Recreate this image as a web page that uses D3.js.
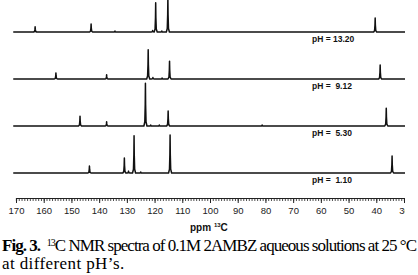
<!DOCTYPE html>
<html><head><meta charset="utf-8">
<script src="https://cdn.jsdelivr.net/npm/d3@7/dist/d3.min.js"></script>
<style>
html,body{margin:0;padding:0;background:#fff;}
svg{display:block;}
</style></head>
<body>
<script>
// ---- data (ppm, relative intensity 0-100) ----
const spectrumLabels = ["pH = 13.20", "pH =  9.12", "pH =  5.30", "pH =  1.10"];
const peaksPH1320 = [[163.1, 11], [142.9, 17], [134.3, 2], [120.7, 3], [119.6, 62], [117.4, 2], [115.2, 74], [40.4, 30]];
const peaksPH912  = [[155.6, 13], [137.3, 9], [122.3, 62], [120.6, 3], [117.3, 2], [114.6, 38], [38.6, 30]];
const peaksPH530  = [[146.9, 21], [137.3, 9], [123.3, 91], [121.4, 2], [118.3, 2], [115.1, 32], [81.2, 2], [36.4, 38]];
const peaksPH110  = [[143.5, 15], [130.9, 32], [129.4, 4], [127.4, 79], [125.0, 2], [114.4, 81], [34.3, 36]];
const spectra = [peaksPH1320, peaksPH912, peaksPH530, peaksPH110];
const ppmTicks = [170, 160, 150, 140, 130, 120, 110, 100, 90, 80, 70, 60, 50, 40, 30];
const axisTitle = "ppm";
const captionBold = "Fig. 3.";
const captionLine1 = "C NMR spectra of 0.1M 2AMBZ aqueous solutions at 25 °C";
const captionLine2 = "at different pH’s.";

const W = 418, H = 275;
const svg = d3.select("body").append("svg").attr("width", W).attr("height", H);

const x = d3.scaleLinear().domain([170, 30]).range([16, 404]);
const baseY = [32, 79, 126, 173];
const y = d3.scaleLinear().domain([0, 100]).range([0, -47]);

svg.append("defs").append("clipPath").attr("id", "clip")
  .append("rect").attr("x", 0).attr("y", 0).attr("width", 405).attr("height", H);

const g = svg.append("g").attr("clip-path", "url(#clip)");

const line = d3.line().x(d => x(d[0])).y(d => y(d[1]));

spectra.forEach((peaks, i) => {
  const pts = [[171, 0]];
  peaks.slice().sort((a, b) => b[0] - a[0]).forEach(([p, h]) => {
    pts.push([p + 0.55, 0], [p + 0.22, h * 0.1], [p + 0.07, h * 0.5], [p, h],
             [p - 0.07, h * 0.5], [p - 0.22, h * 0.1], [p - 0.55, 0]);
  });
  pts.push([29, 0]);
  g.append("path")
    .attr("transform", `translate(0,${baseY[i]})`)
    .attr("d", line(pts))
    .attr("fill", "none")
    .attr("stroke", "#111")
    .attr("stroke-width", 1.5)
    .attr("stroke-linejoin", "round");
  svg.append("text")
    .attr("x", 312).attr("y", baseY[i] + 10)
    .style("white-space", "pre")
    .attr("font-family", "Liberation Sans, Arial, sans-serif")
    .attr("font-weight", "bold")
    .attr("font-size", 8.5)
    .attr("fill", "#111")
    .text(spectrumLabels[i]);
});

// axis
const axisY = 198;
const axG = g.append("g").attr("transform", `translate(0,${axisY})`);
axG.call(d3.axisBottom(x).tickValues(d3.range(170, 29.5, -1)).tickSize(3).tickFormat(""));
axG.call(g2 => g2.selectAll(".tick line").attr("stroke", "#222").attr("stroke-width", 0.8));
axG.select(".domain").attr("stroke", "#222").attr("stroke-width", 1.2);
const axMaj = g.append("g").attr("transform", `translate(0,${axisY})`)
  .call(d3.axisBottom(x).tickValues(ppmTicks).tickSize(5).tickPadding(4).tickFormat(d3.format("d")));
axMaj.select(".domain").remove();
axMaj.selectAll(".tick line").attr("stroke", "#222").attr("stroke-width", 1);
axMaj.selectAll(".tick text")
  .attr("font-family", "Liberation Sans, Arial, sans-serif")
  .attr("font-size", 9.5).attr("fill", "#222");

// axis title: ppm 13C
const t = svg.append("text").attr("x", 190).attr("y", 231)
  .attr("font-family", "Liberation Sans, Arial, sans-serif")
  .attr("font-weight", "bold").attr("font-size", 10).attr("fill", "#111");
t.append("tspan").text(axisTitle + " ");
t.append("tspan").attr("font-size", 6).attr("dy", -4).text("13");
t.append("tspan").attr("dy", 4).text("C");

// caption
const cap = svg.append("text").attr("x", 2).attr("y", 251)
  .attr("font-family", "Liberation Serif, Times New Roman, serif")
  .attr("font-size", 17).attr("fill", "#000").style("white-space", "pre");
cap.append("tspan").attr("font-weight", "bold").text(captionBold);
cap.append("tspan").text("  ");
cap.append("tspan").attr("font-size", 10).attr("dy", -5).text("13");
cap.append("tspan").attr("dy", 5).text(captionLine1);
const natural = cap.node().getComputedTextLength();
const nChars = (captionBold + "  13" + captionLine1).length;
cap.attr("letter-spacing", (414 - natural) / nChars);

svg.append("text").attr("x", 2).attr("y", 269)
  .attr("font-family", "Liberation Serif, Times New Roman, serif")
  .attr("font-size", 17).attr("fill", "#000")
  .attr("letter-spacing", 0.4)
  .text(captionLine2);
</script>
</body></html>
